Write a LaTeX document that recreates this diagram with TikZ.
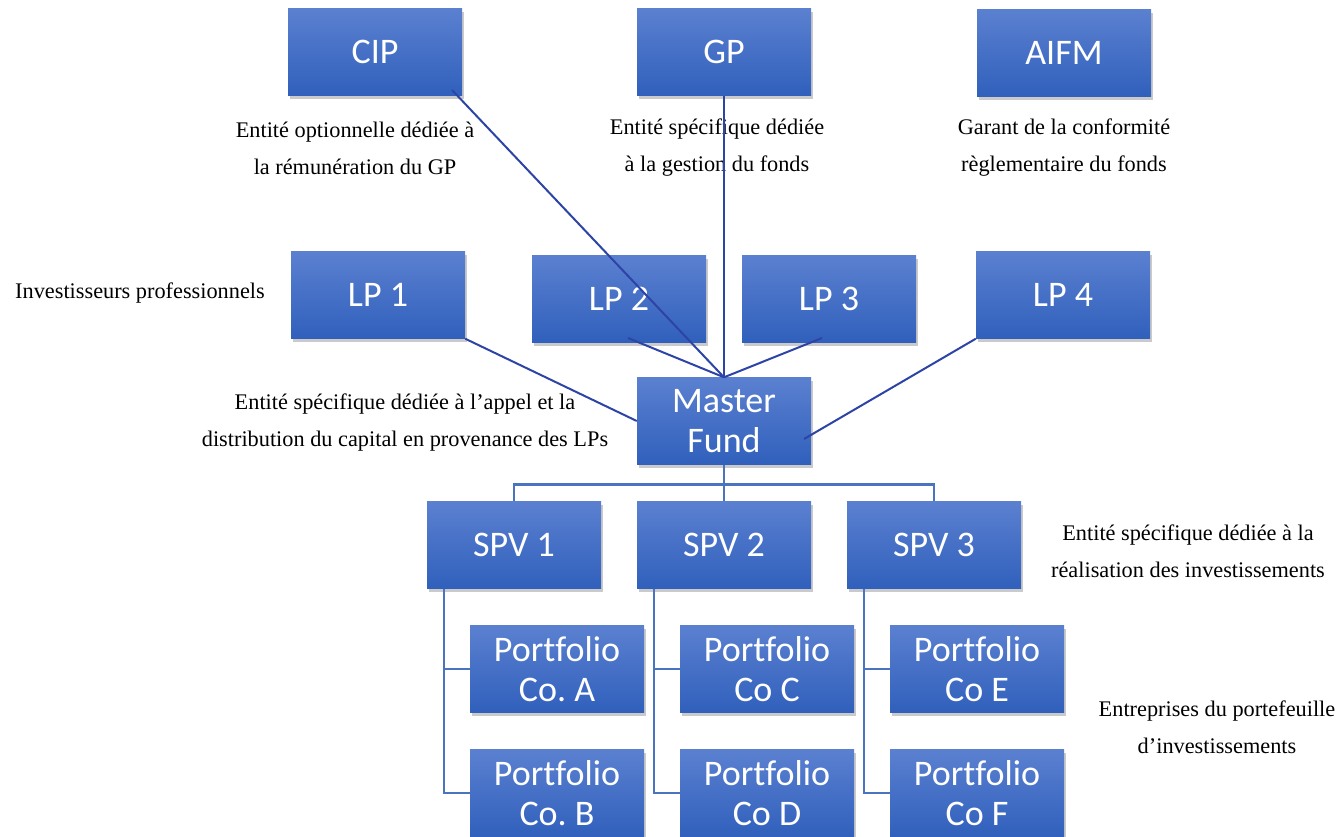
\documentclass[tikz,border=0pt]{standalone}
\usepackage{fontspec}
\setmainfont{Liberation Serif}
\newfontfamily\boxfont[Ligatures=NoCommon]{Carlito}
\usetikzlibrary{shadows}
\definecolor{boxtop}{HTML}{5B80D0}
\definecolor{boxbot}{HTML}{3060BC}
\definecolor{linkcol}{HTML}{2D44A6}
\definecolor{treecol}{HTML}{4A74C0}
\frenchspacing

\begin{document}
\begin{tikzpicture}[x=1pt,y=-1pt,
   box/.style={minimum width=174pt,minimum height=87pt,inner sep=0pt,
     top color=boxtop,bottom color=boxbot,text=white,align=center,
     font=\boxfont\fontsize{36}{40}\selectfont,
     drop shadow={shadow xshift=2pt,shadow yshift=-3pt,opacity=0.35,fill=black!60}},
   note/.style={align=center,font=\fontsize{22.3}{37}\selectfont},
   link/.style={draw=linkcol,line width=2pt},
   tree/.style={draw=treecol,line width=2.5pt}]
   \useasboundingbox (0,0) rectangle (1340,836);

   % top row
   \node[box] (cip) at (375,52) {CIP};
   \node[box] (gp) at (724,52) {GP};
   \node[box] (aifm) at (1064,53) {AIFM};
   \node[note] (cipn) at (355,148) {Entité optionnelle dédiée à\\la rémunération du GP};
   \node[note] (gpn) at (717,148) {Entité spécifique dédiée\\à la gestion du fonds};
   \node[note] (aifmn) at (1064,148) {Garant de la conformité\\règlementaire du fonds};

   % investors
   \node[note] (lpn) at (140,293) {Investisseurs professionnels};
   \node[box] (lp1) at (378,295) {LP 1};
   \node[box] (lp2) at (619,299) {LP 2};
   \node[box] (lp3) at (829,299) {LP 3};
   \node[box] (lp4) at (1063,295) {LP 4};

   \node[box] (master) at (724,421) {Master\\Fund};
   \node[note] (mastern) at (405,423) {Entité spécifique dédiée à l’appel et la\\distribution du capital en provenance des LPs};

   % SPVs
   \node[box] (spv1) at (514,545) {SPV 1};
   \node[box] (spv2) at (724,545) {SPV 2};
   \node[box] (spv3) at (934,545) {SPV 3};
   \node[note] (spvn) at (1188,551) {Entité spécifique dédiée à la\\réalisation des investissements};

   % portfolio companies
   \node[box] (pa) at (557,669) {Portfolio\\Co. A};
   \node[box] (pc) at (767,669) {Portfolio\\Co C};
   \node[box] (pe) at (977,669) {Portfolio\\Co E};
   \node[box] (pb) at (557,793) {Portfolio\\Co. B};
   \node[box] (pd) at (767,793) {Portfolio\\Co D};
   \node[box] (pf) at (977,793) {Portfolio\\Co F};
   \node[note] (pn) at (1217,727) {Entreprises du portefeuille\\d’investissements};

   \coordinate (cipout) at (452,90);
   \coordinate (lp2out) at (628,338);
   \coordinate (lp3out) at (822,338);
   \coordinate (mfin) at (804,439);

   \draw[link] (cipout) -- (master.north);
   \draw[link] (gp.south) -- (master.north);
   \draw[link] (lp1.south east) -- (master.west);
   \draw[link] (lp2out) -- (master.north);
   \draw[link] (lp3out) -- (master.north);
   \draw[link] (lp4.south west) -- (mfin);

   \draw[tree] (master.south) -- (spv2.north);
   \draw[tree] (spv1.north) -- ++(0,-17) -| (spv3.north);
   \draw[tree] ([xshift=17pt]spv1.south west) |- (pa.west);
   \draw[tree] ([xshift=17pt]spv1.south west) |- (pb.west);
   \draw[tree] ([xshift=17pt]spv2.south west) |- (pc.west);
   \draw[tree] ([xshift=17pt]spv2.south west) |- (pd.west);
   \draw[tree] ([xshift=17pt]spv3.south west) |- (pe.west);
   \draw[tree] ([xshift=17pt]spv3.south west) |- (pf.west);
\end{tikzpicture}
\end{document}
